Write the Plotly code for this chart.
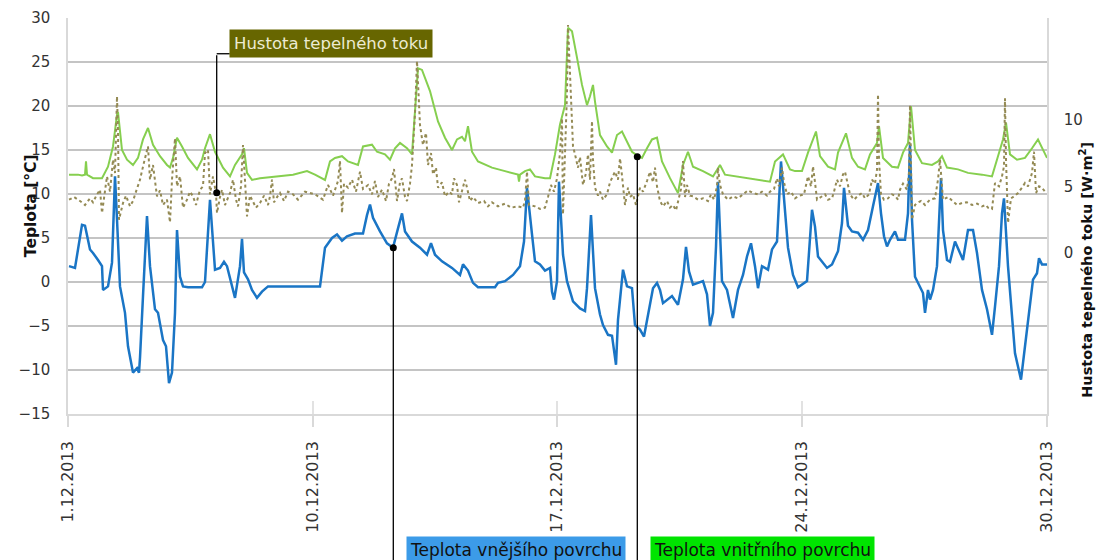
import plotly.graph_objects as go

# ---- categories / tick labels ----
DATE_LABELS = ["1.12.2013", "10.12.2013", "17.12.2013", "24.12.2013", "30.12.2013"]
DATE_SAMPLES = [0, 245, 489, 734, 979]   # sample index where each label sits

# ---- Teplota vnějšího povrchu [°C] (sample index, value) ----
BLUE_T = [1, 7, 14, 17, 22, 25, 30, 34, 35, 40, 44, 47, 49, 52, 57, 60, 65, 69, 71, 72, 75, 79, 82, 87, 90, 95, 98,
          101, 104, 107, 109, 112, 115, 120, 134, 137, 142, 144, 147, 152, 156, 159, 164, 167, 172, 174, 176, 180,
          184, 189, 194, 200, 252, 257, 264, 269, 274, 279, 287, 295, 299, 302, 305, 312, 319, 325, 330, 334, 337,
          344, 352, 359, 363, 367, 374, 384, 392, 395, 400, 405, 410, 427, 430, 437, 445, 452, 456, 459, 464, 467,
          472, 477, 482, 484, 486, 489, 491, 495, 499, 505, 512, 517, 519, 523, 527, 532, 535, 540, 544, 548, 550,
          553, 555, 559, 564, 567, 572, 576, 580, 585, 589, 592, 595, 600, 604, 610, 615, 618, 621, 625, 630, 635,
          639, 642, 645, 648, 650, 654, 659, 665, 670, 675, 679, 683, 687, 690, 694, 700, 704, 709, 713, 717, 720,
          725, 730, 739, 742, 744, 747, 750, 759, 764, 770, 774, 776, 780, 784, 790, 795, 800, 805, 810, 813, 816,
          819, 822, 827, 830, 837, 840, 842, 844, 847, 852, 855, 857, 860, 862, 865, 869, 871, 873, 875, 879, 882,
          887, 892, 895, 900, 905, 909, 914, 919, 924, 927, 931, 934, 936, 940, 944, 947, 950, 953, 957, 960, 965,
          969, 971, 974, 979]
BLUE_V = [1.8, 1.6, 6.5, 6.4, 3.7, 3.3, 2.5, 1.8, -0.9, -0.5, 2.2, 12.0, 7.1, -0.5, -3.5, -7.3, -10.3, -9.8, -10.3,
          -8.6, -1.6, 7.5, 1.8, -3.1, -3.5, -6.6, -7.3, -11.5, -10.3, -3.5, 5.9, 0.6, -0.5, -0.6, -0.6, 0.0, 9.35,
          6.4, 1.4, 1.6, 2.3, 1.8, -0.5, -1.8, 1.8, 4.9, 1.1, 0.3, -0.9, -1.8, -1.1, -0.5, -0.5, 3.9, 5.0, 5.4, 4.7,
          5.2, 5.5, 5.5, 7.6, 8.8, 7.3, 5.75, 4.4, 3.9, 6.1, 7.8, 5.75, 4.6, 3.9, 3.1, 4.4, 3.1, 2.35, 1.6, 0.8,
          2.0, 1.3, -0.1, -0.6, -0.6, -0.1, 0.1, 0.8, 1.8, 4.6, 10.7, 5.4, 2.35, 2.0, 1.3, 1.6, -1.1, -2.0, 0.1,
          11.4, 3.1, 0.1, -2.2, -3.0, -3.3, -0.7, 7.6, -0.7, -3.7, -4.9, -6.0, -6.1, -9.4, -4.3, -0.7, 1.4, -0.5,
          -0.7, -4.9, -5.4, -6.2, -3.9, -0.7, -0.1, -0.9, -2.4, -2.0, -1.6, -2.6, 0.3, 4.0, 1.2, -0.3, -0.1, 0.1,
          -1.4, -5.0, -3.5, 4.0, 11.4, 0.1, -0.9, -4.1, -0.9, 0.8, 2.9, 4.4, 1.8, -0.7, 1.8, 1.4, 3.7, 4.6, 13.7,
          7.6, 3.9, 0.8, -0.6, 0.1, 4.8, 8.2, 6.3, 2.9, 1.6, 2.0, 3.5, 6.7, 10.7, 6.4, 5.75, 5.6, 4.8, 5.9, 8.6,
          11.25, 7.8, 5.2, 4.05, 4.8, 5.75, 4.8, 4.8, 7.8, 15.6, 7.1, 0.6, -0.5, -1.25, -3.5, -0.9, -2.0, -0.9, 1.8,
          7.8, 11.8, 5.9, 2.5, 2.3, 4.6, 3.3, 2.5, 5.9, 5.9, 3.3, -0.9, -3.1, -6.0, -2.8, 1.8, 7.8, 9.5, 1.8, -3.5,
          -8.1, -9.6, -11.1, -7.3, -4.3, 0.26, 1.0, 2.7, 2.0, 2.0]

# ---- Teplota vnitřního povrchu [°C] ----
GREEN_T = [1, 10, 14, 17, 18, 19, 25, 34, 40, 45, 49, 50, 54, 59, 65, 70, 75, 80, 85, 92, 99, 102, 105, 109, 114,
           120, 129, 134, 137, 142, 147, 155, 162, 167, 174, 176, 179, 184, 192, 209, 225, 239, 247, 257, 262, 267,
           274, 280, 290, 295, 304, 309, 317, 322, 327, 332, 339, 344, 347, 350, 354, 362, 370, 377, 384, 389, 394,
           397, 400, 404, 410, 424, 437, 450, 451, 452, 457, 462, 467, 477, 482, 487, 492, 497, 500, 504, 509, 514,
           519, 522, 525, 527, 532, 539, 544, 549, 554, 559, 564, 570, 574, 579, 584, 589, 594, 602, 610, 615, 620,
           625, 635, 645, 652, 657, 669, 682, 692, 702, 707, 715, 722, 727, 734, 740, 748, 752, 760, 767, 770, 778,
           784, 790, 797, 802, 809, 811, 815, 824, 830, 835, 840, 843, 847, 854, 864, 870, 874, 879, 890, 900, 914,
           924, 930, 935, 938, 942, 949, 957, 964, 970, 979]
GREEN_V = [12.2, 12.2, 12.1, 12.2, 13.7, 12.2, 11.8, 11.8, 13.1, 15.4, 19.0, 19.3, 15.0, 13.9, 13.3, 14.1, 16.2,
           17.5, 15.6, 14.3, 13.3, 13.0, 14.1, 16.4, 15.4, 14.1, 12.8, 13.9, 15.2, 16.8, 14.8, 13.0, 12.0, 13.3,
           14.5, 15.2, 12.4, 11.6, 11.8, 12.0, 12.2, 12.6, 12.2, 11.6, 13.7, 14.1, 14.3, 13.7, 13.3, 15.4, 15.6,
           14.8, 14.5, 13.9, 15.2, 15.8, 15.2, 14.5, 19.0, 24.3, 24.1, 21.7, 18.25, 16.4, 15.0, 16.2, 16.5, 16.0,
           17.7, 14.8, 13.7, 13.0, 12.6, 12.2, 11.4, 12.2, 12.6, 12.8, 12.0, 11.8, 11.8, 14.5, 17.9, 20.1, 28.9,
           28.5, 25.5, 22.4, 20.1, 21.1, 22.4, 20.5, 16.7, 15.4, 14.7, 16.7, 17.1, 16.0, 14.8, 14.3, 14.1, 15.2,
           16.2, 16.4, 13.7, 11.8, 10.1, 13.3, 14.8, 13.1, 12.6, 12.0, 13.3, 12.2, 12.0, 11.8, 11.6, 11.4, 13.7,
           14.5, 12.8, 12.6, 12.6, 14.7, 17.1, 14.3, 13.1, 12.8, 14.7, 16.9, 14.1, 13.1, 12.8, 14.5, 15.8, 17.7,
           14.1, 13.1, 13.0, 14.7, 15.8, 20.0, 15.0, 13.5, 13.3, 13.7, 14.3, 13.0, 12.8, 12.4, 12.2, 12.0, 14.3,
           16.2, 18.1, 14.5, 13.9, 14.1, 15.2, 16.2, 14.1]

# ---- Hustota tepelného toku [W·m²] ----
FLUX_T = [1, 6, 12, 17, 22, 25, 29, 32, 34, 37, 39, 42, 45, 47, 49, 50, 51, 55, 58, 62, 65, 68, 72, 76, 80, 82, 85,
          89, 92, 95, 99, 102, 104, 107, 109, 112, 115, 119, 122, 125, 128, 132, 135, 137, 140, 142, 145, 148, 149,
          152, 154, 157, 159, 162, 165, 168, 170, 173, 175, 177, 179, 182, 184, 188, 192, 196, 200, 202, 204, 206,
          210, 212, 216, 220, 225, 230, 237, 247, 255, 260, 265, 270, 272, 274, 276, 280, 284, 288, 292, 295, 300,
          304, 307, 310, 314, 318, 321, 324, 326, 329, 332, 334, 337, 339, 342, 344, 347, 349, 352, 355, 358, 360,
          363, 365, 368, 370, 374, 377, 381, 384, 386, 389, 391, 394, 397, 399, 402, 405, 410, 416, 420, 424, 430,
          437, 443, 450, 455, 457, 459, 461, 467, 472, 477, 480, 483, 486, 489, 492, 494, 495, 497, 499, 500, 502,
          504, 505, 507, 510, 512, 515, 518, 520, 522, 524, 525, 527, 530, 532, 535, 539, 542, 547, 550, 552, 554,
          557, 560, 562, 565, 568, 572, 575, 579, 582, 585, 587, 589, 592, 595, 599, 602, 605, 608, 610, 613, 615,
          617, 619, 622, 625, 630, 635, 640, 643, 646, 649, 650, 652, 655, 660, 665, 670, 675, 680, 685, 690, 694,
          699, 702, 706, 709, 711, 714, 716, 719, 723, 727, 731, 736, 740, 743, 745, 747, 749, 753, 757, 760, 764,
          766, 769, 772, 775, 777, 779, 782, 786, 790, 794, 797, 801, 804, 807, 809, 810, 811, 813, 816, 820, 824,
          827, 830, 832, 835, 839, 841, 842, 843, 844, 847, 849, 853, 857, 862, 867, 870, 872, 874, 875, 880, 884,
          889, 894, 899, 904, 909, 914, 918, 920, 924, 927, 931, 934, 936, 937, 938, 940, 943, 947, 950, 954, 957,
          960, 964, 966, 968, 971, 974, 978]
FLUX_V = [4.0, 4.2, 3.9, 3.6, 4.1, 3.8, 4.4, 4.75, 3.0, 4.8, 5.75, 4.6, 7.0, 6.0, 11.75, 9.25, 2.5, 3.75, 4.3, 3.5,
          3.9, 4.6, 5.5, 6.8, 8.0, 5.5, 6.6, 4.25, 4.7, 3.6, 4.0, 2.3, 5.5, 8.6, 5.0, 5.75, 3.4, 4.0, 4.6, 4.25,
          3.6, 4.75, 5.0, 7.5, 7.75, 4.4, 5.75, 4.5, 3.0, 4.2, 4.75, 3.6, 4.0, 4.5, 5.5, 4.0, 3.5, 5.0, 8.1, 5.0,
          2.75, 4.3, 4.0, 3.4, 3.75, 4.3, 3.6, 4.25, 5.5, 3.8, 4.3, 4.5, 3.9, 4.6, 4.4, 4.0, 4.6, 4.4, 4.0, 5.1,
          4.3, 5.4, 6.9, 3.0, 5.2, 4.9, 5.5, 4.6, 6.1, 4.8, 5.1, 4.4, 5.4, 4.2, 4.75, 3.9, 5.2, 5.6, 6.3, 3.9, 5.3,
          5.6, 4.2, 3.9, 5.2, 6.6, 10.5, 14.4, 9.6, 8.1, 9.0, 6.6, 7.5, 5.9, 6.4, 4.9, 5.3, 4.25, 4.6, 4.4, 5.6,
          5.1, 3.8, 4.6, 5.5, 4.9, 3.9, 4.2, 3.75, 3.9, 3.5, 3.8, 3.5, 3.7, 3.4, 3.5, 3.4, 3.9, 6.1, 3.6, 3.5, 3.3,
          3.4, 4.2, 5.1, 4.6, 5.6, 7.5, 10.1, 2.9, 8.4, 12.0, 17.1, 13.0, 10.4, 8.0, 7.4, 6.4, 7.2, 5.1, 6.0, 7.4,
          5.5, 9.9, 7.0, 4.9, 4.3, 4.6, 4.0, 4.4, 5.3, 6.1, 5.5, 7.1, 5.8, 3.6, 4.9, 4.2, 4.4, 3.6, 4.9, 4.6, 5.4,
          6.1, 5.3, 6.4, 5.0, 3.9, 3.5, 3.9, 3.4, 3.6, 3.2, 3.9, 4.8, 6.9, 4.2, 5.1, 4.3, 4.25, 4.0, 4.1, 3.9, 4.4,
          4.0, 5.0, 6.4, 5.1, 4.4, 4.0, 4.25, 4.1, 4.4, 4.7, 4.5, 4.4, 4.6, 4.3, 4.6, 4.8, 5.6, 5.0, 6.4, 5.3, 4.4,
          4.6, 4.1, 4.3, 4.4, 5.75, 5.0, 6.5, 5.3, 4.0, 4.2, 4.4, 4.0, 4.1, 4.6, 5.5, 5.0, 5.9, 6.1, 5.3, 4.4, 4.0,
          4.3, 4.5, 4.1, 4.4, 5.5, 5.2, 6.25, 11.9, 7.0, 4.4, 4.0, 4.1, 4.4, 4.3, 4.0, 4.75, 5.2, 4.75, 6.0, 11.1,
          6.0, 2.5, 3.6, 3.75, 3.9, 3.6, 4.0, 4.1, 5.5, 7.0, 5.0, 4.0, 4.2, 3.9, 3.6, 3.75, 3.8, 3.6, 3.7, 3.5,
          3.6, 3.4, 3.3, 5.25, 5.0, 5.75, 6.5, 11.6, 7.0, 2.25, 4.1, 4.3, 4.5, 4.9, 5.25, 5.0, 6.0, 7.6, 4.5, 5.0,
          4.9, 4.5]

# ---- callout anchor points (sample index, value) ----
CALLOUT_FLUX = (148.7, 4.52)
CALLOUT_OUT = (325.3, 3.9)
CALLOUT_IN = (569.3, 14.24)

FONT = "DejaVu Sans"
GRID = "#c4c4c4"
AXIS = "#d9d9d9"

fig = go.Figure()
fig.add_trace(go.Scatter(x=GREEN_T, y=GREEN_V, mode="lines", name="Teplota vnitřního povrchu",
                         line=dict(color="#86cf4f", width=2)))
fig.add_trace(go.Scatter(x=BLUE_T, y=BLUE_V, mode="lines", name="Teplota vnějšího povrchu",
                         line=dict(color="#1a75c5", width=2.5)))
fig.add_trace(go.Scatter(x=FLUX_T, y=FLUX_V, mode="lines", name="Hustota tepelného toku", yaxis="y2",
                         line=dict(color="#948a54", width=2, dash="dot")))
# callout dots
fig.add_trace(go.Scatter(x=[CALLOUT_OUT[0], CALLOUT_IN[0]], y=[CALLOUT_OUT[1], CALLOUT_IN[1]], mode="markers",
                         marker=dict(color="black", size=7), hoverinfo="skip"))
fig.add_trace(go.Scatter(x=[CALLOUT_FLUX[0]], y=[CALLOUT_FLUX[1]], mode="markers", yaxis="y2",
                         marker=dict(color="black", size=7), hoverinfo="skip"))

# the page body adds an 8 px offset; margins compensate so the plot lands where the reference has it
fig.update_layout(
    width=1105, height=560,
    margin=dict(l=60, r=66, t=10, b=154),
    paper_bgcolor="white", plot_bgcolor="white",
    showlegend=False,
    font=dict(family=FONT, size=15, color="#333333"),
    xaxis=dict(range=[0, 979], tickvals=DATE_SAMPLES, ticktext=DATE_LABELS, tickangle=-90,
               ticks="outside", ticklen=11, tickwidth=1.5, tickcolor=AXIS, ticklabelstandoff=8,
               showgrid=False, zeroline=False, showline=True, linecolor=AXIS, linewidth=1.5, automargin=False,
               tickfont=dict(size=16, color="#333333")),
    yaxis=dict(range=[-15, 30], tickvals=list(range(-15, 31, 5)), showgrid=True, gridcolor=GRID, gridwidth=1.5,
               zeroline=False, showline=True, linecolor=AXIS, linewidth=1.5, ticks="", ticklabelstandoff=13,
               automargin=False, tickfont=dict(size=15, color="#333333")),
    yaxis2=dict(range=[-12.08, 17.63], tickvals=[0, 5, 10], overlaying="y", side="right", showgrid=False,
                zeroline=False, showline=True, linecolor=AXIS, linewidth=1.5, ticks="", ticklabelstandoff=12,
                automargin=False, tickfont=dict(size=15, color="#333333")),
)

# small upward tick marks at the date labels
for xs in DATE_SAMPLES[1:-1]:
    fig.add_shape(type="line", xref="x", yref="paper", x0=xs, x1=xs, y0=0, y1=0.033,
                  line=dict(color=AXIS, width=1.5))

# axis titles
fig.add_annotation(text="<b>Teplota [°C]</b>", xref="paper", yref="paper", x=-0.049, y=0.525,
                   textangle=-90, showarrow=False, font=dict(size=15.5, color="#111111"))
fig.add_annotation(text="<b>Hustota tepelného toku [W·m<sup>2</sup>]</b>", xref="paper", yref="paper",
                   x=1.051, y=0.364, textangle=-90, showarrow=False, font=dict(size=14.5, color="#111111"))

# callout leader lines, drawn from the data points (offsets in pixels)
LEAD = dict(showarrow=True, arrowhead=0, arrowwidth=1.3, arrowcolor="black", axref="pixel", ayref="pixel",
            ax=0, text="", standoff=0, startstandoff=0)
fig.add_annotation(x=CALLOUT_FLUX[0], y=CALLOUT_FLUX[1], xref="x", yref="y2", ay=-139, **LEAD)
fig.add_annotation(x=CALLOUT_OUT[0], y=CALLOUT_OUT[1], xref="x", yref="y", ay=330, **LEAD)
fig.add_annotation(x=CALLOUT_IN[0], y=CALLOUT_IN[1], xref="x", yref="y", ay=420, **LEAD)
fig.add_shape(type="line", xref="x", yref="y2", xsizemode="pixel", ysizemode="pixel",
              xanchor=CALLOUT_FLUX[0], yanchor=CALLOUT_FLUX[1], x0=0, x1=13, y0=139, y1=139,
              line=dict(color="black", width=1.3))

# callout boxes
fig.add_annotation(text="Hustota tepelného toku", xref="paper", yref="paper", x=(229 - 68) / 979, y=0.973,
                   xanchor="left", yanchor="top", showarrow=False, bgcolor="#676600", borderpad=4,
                   font=dict(size=16.5, color="#ecebd2"))
fig.add_annotation(text="Teplota vnějšího povrchu", xref="paper", yref="paper", x=(405.7 - 68) / 979,
                   y=-0.307, xanchor="left", yanchor="top", showarrow=False, bgcolor="#3c9be8", borderpad=3,
                   font=dict(size=17, color="#111111"))
fig.add_annotation(text="Teplota vnitřního povrchu", xref="paper", yref="paper", x=(650 - 68) / 979,
                   y=-0.307, xanchor="left", yanchor="top", showarrow=False, bgcolor="#00e400", borderpad=3,
                   font=dict(size=17, color="#111111"))

fig.write_html("out.html")
